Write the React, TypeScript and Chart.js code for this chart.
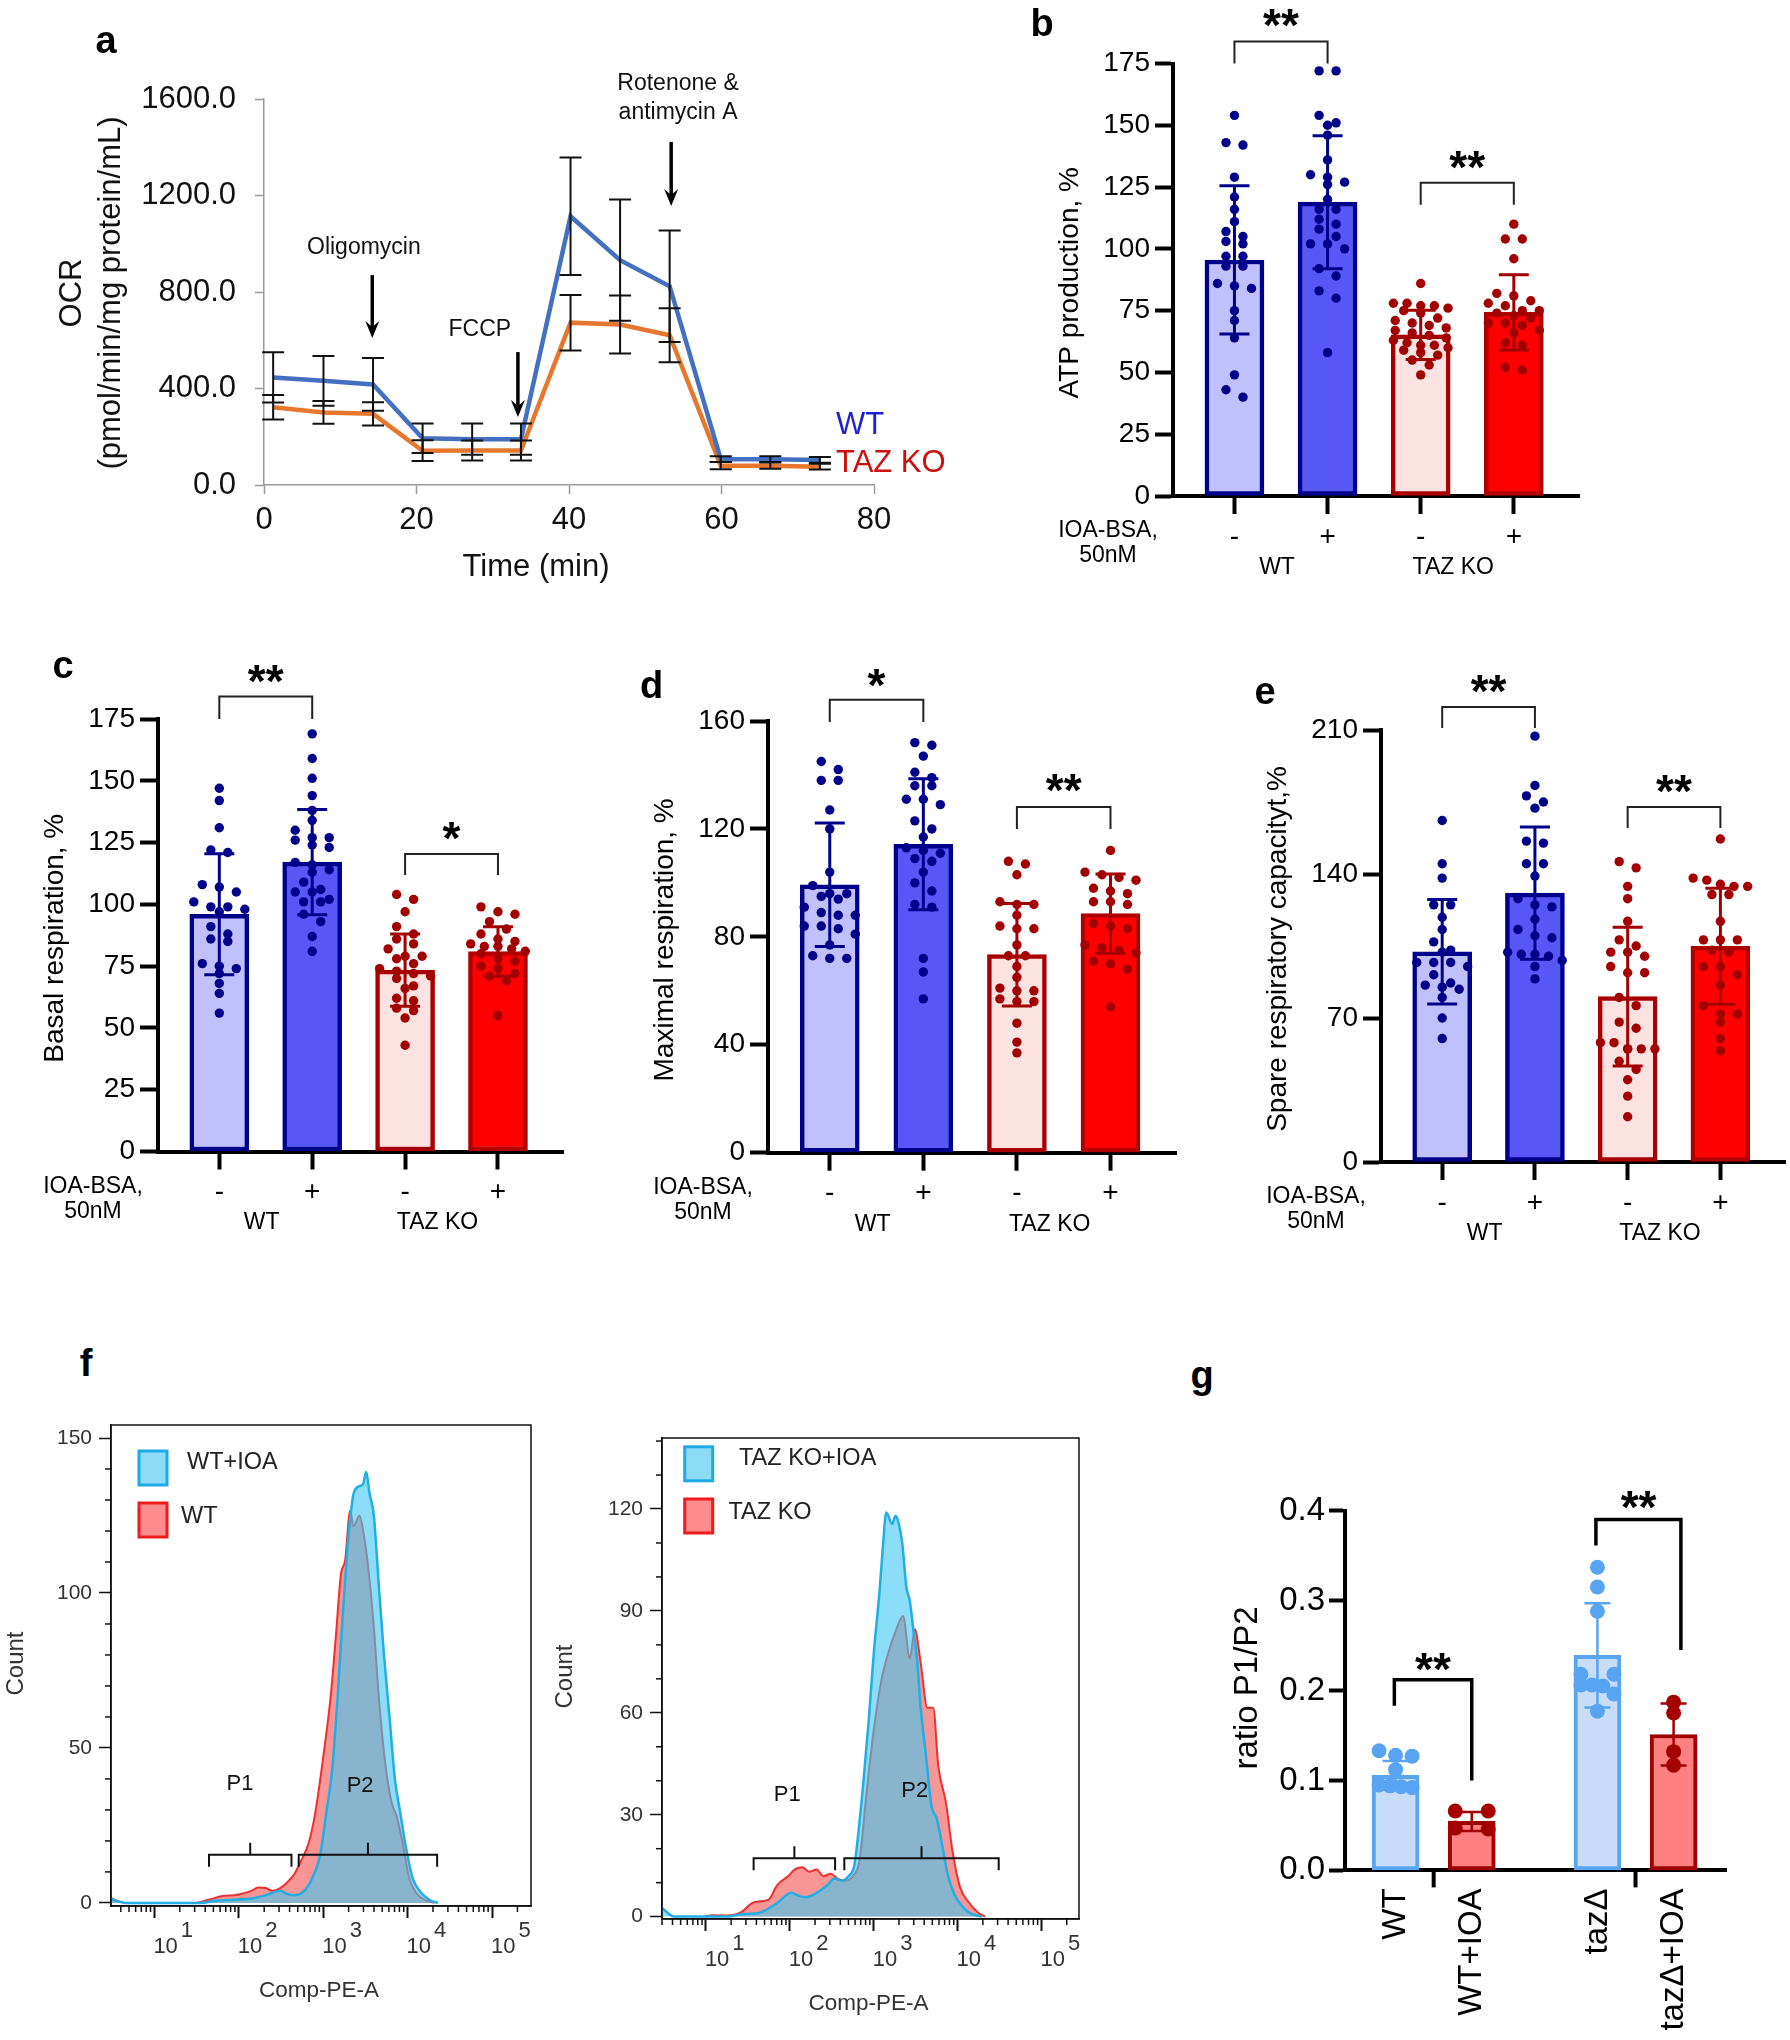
import React, { useEffect, useRef } from 'react';
import { Chart, registerables } from 'chart.js';

Chart.register(...registerables);

const FONT = "'Liberation Sans', Arial, Helvetica, sans-serif";

/* ---------------- a : OCR time course ---------------- */
const ocrTime = [1.2, 7.8, 14.3, 20.8, 27.3, 33.7, 40.2, 46.7, 53.2, 59.9, 66.4, 72.9];
const ocrWT = [446, 432, 417, 194, 190, 190, 1114, 932, 824, 107, 107, 104];
const ocrWTsd = [104, 103, 109, 61, 65, 65, 244, 251, 231, 12, 12, 12];
const ocrKO = [322, 301, 295, 142, 143, 143, 673, 665, 621, 80, 80, 76];
const ocrKOsd = [51, 47, 48, 43, 41, 41, 115, 120, 112, 15, 13, 12];
const ocrXTicks = [0, 20, 40, 60, 80];
const ocrYTicks = [0, 400, 800, 1200, 1600];
const ocrSeries = ['WT', 'TAZ KO'];
const injLabels = ['Oligomycin', 'FCCP', 'Rotenone &', 'antimycin A'];
const injLabelX = [13.1, 28.3, 54.3, 54.3];
const injLabelY = [982, 642, 1662, 1542];
const injArrowX = [14.2, 33.3, 53.4];
const injArrowTop = [870, 551, 1422];
const injArrowTip = [609, 282, 1156];

/* ---------------- b-e : bar + dot panels ---------------- */
const ioaSigns = ['-', '+', '-', '+'];
const genotypes = ['WT', 'TAZ KO'];
const treatLabel = ['IOA-BSA,', '50nM'];

const atpMean = [95.5, 118.9, 65.2, 74.3];
const atpSd = [30.0, 26.9, 10.0, 15.2];
const atpWT = [154, 143, 142, 129, 121, 116, 111, 107, 105, 103, 102, 97, 97, 93, 93, 86, 85, 84, 75, 71, 64, 49, 43, 40];
const atpWTioa = [172, 172, 154, 151, 150, 146, 136, 130, 129, 127, 126, 120, 116, 116, 112, 110, 108, 105, 102, 102, 100, 92, 89, 83, 80, 58];
const atpKO = [86, 78, 78, 77, 77, 76, 75, 74, 72, 71, 70, 69, 68, 67, 66, 65, 64, 63, 62, 61, 61, 60, 59, 58, 57, 55, 53, 49];
const atpKOioa = [110, 104, 104, 96, 82, 81, 79, 78, 77, 75, 75, 74, 73, 72, 70, 70, 69, 67, 66, 62, 61, 52, 51];

const basMean = [96.0, 117.1, 73.4, 80.9];
const basSd = [24.5, 21.3, 14.6, 10.0];
const basWT = [147, 142, 131, 122, 121, 108, 107, 105, 101, 99, 99, 98, 97, 91, 88, 86, 85, 76, 75, 74, 72, 68, 64, 56];
const basWTioa = [169, 159, 151, 144, 138, 134, 130, 127, 127, 126, 124, 123, 117, 116, 114, 113, 109, 106, 105, 105, 102, 101, 101, 96, 93, 87, 81];
const basKO = [104, 102, 97, 91, 88, 86, 84, 82, 79, 79, 78, 76, 74, 73, 72, 71, 70, 67, 66, 62, 61, 58, 57, 54, 43];
const basKOioa = [99, 97, 96, 93, 90, 88, 86, 85, 84, 83, 83, 82, 81, 80, 78, 77, 75, 74, 72, 71, 69, 55];

const maxMean = [99.3, 114.3, 73.4, 88.6];
const maxSd = [22.9, 24.3, 19.0, 14.7];
const maxWT = [145, 142, 138, 138, 127, 120, 104, 99, 96, 96, 95, 94, 91, 89, 88, 88, 84, 84, 83, 81, 77, 73, 72, 72];
const maxWTioa = [152, 151, 147, 141, 139, 136, 136, 131, 131, 129, 123, 120, 117, 113, 112, 111, 109, 108, 104, 100, 97, 92, 91, 72, 67, 57];
const maxKO = [108, 107, 103, 93, 92, 92, 88, 84, 83, 83, 77, 73, 73, 69, 65, 61, 60, 60, 57, 56, 56, 48, 41, 37];
const maxKOioa = [112, 104, 103, 102, 101, 98, 97, 96, 93, 93, 92, 85, 84, 83, 77, 76, 75, 74, 71, 70, 68, 54];

const spMean = [102.2, 130.7, 80.4, 104.9];
const spSd = [25.4, 32.2, 33.7, 28.2];
const spWT = [166, 145, 138, 125, 125, 119, 113, 107, 103, 102, 97, 97, 97, 95, 91, 87, 86, 85, 84, 80, 70, 60];
const spWTioa = [207, 183, 178, 175, 172, 156, 155, 145, 145, 139, 128, 125, 124, 118, 113, 110, 109, 102, 101, 101, 100, 98, 95, 89];
const spKO = [146, 143, 134, 128, 117, 108, 105, 102, 102, 100, 95, 92, 92, 80, 76, 68, 65, 58, 58, 55, 55, 55, 55, 49, 45, 40, 32, 22];
const spKOioa = [157, 138, 137, 135, 134, 134, 130, 130, 117, 108, 108, 108, 103, 102, 95, 95, 91, 86, 76, 72, 72, 68, 60, 54];

/* ---------------- f : flow histograms (x in log10 units) ---------------- */
const flowDecades = [1, 2, 3, 4, 5];
const fLegendL = ['WT+IOA', 'WT'];
const fLegendR = ['TAZ KO+IOA', 'TAZ KO'];
const gateNames = ['P1', 'P2'];

const fLioaX = [0.49, 0.58, 0.66, 1.55, 1.72, 1.94, 2.15, 2.32, 2.49, 2.57, 2.66, 2.79, 2.87, 2.96, 3.04, 3.11, 3.17, 3.23, 3.28, 3.32, 3.36, 3.43, 3.47, 3.51, 3.55, 3.6, 3.66, 3.72, 3.79, 3.85, 3.91, 3.98, 4.06, 4.15, 4.28, 4.36];
const fLioaY = [1.2, 0.4, 0, 0, 0.7, 1, 1.4, 2.5, 3.9, 2.9, 2.5, 4.3, 8, 15, 29.6, 44, 66, 92, 112, 124, 132, 134.5, 135, 139, 132, 125, 102, 80, 58.6, 39.8, 29.6, 18, 8, 3.6, 0.7, 0];
const fLwtX = [0.49, 0.58, 0.66, 1.49, 1.64, 1.81, 1.98, 2.15, 2.23, 2.32, 2.4, 2.49, 2.57, 2.66, 2.74, 2.83, 2.91, 3.0, 3.09, 3.15, 3.21, 3.26, 3.32, 3.36, 3.43, 3.48, 3.53, 3.6, 3.66, 3.74, 3.81, 3.87, 3.94, 4.02, 4.11, 4.23, 4.32];
const fLwtY = [1.5, 0.5, 0, 0, 1, 2.2, 2.6, 3.9, 5, 4.8, 3.9, 4.8, 6.5, 9.4, 13.7, 19.5, 29.7, 47, 67, 86, 106, 110.6, 126.6, 121.5, 125, 119, 109, 89, 66, 44, 32.5, 28, 19.5, 8, 2.9, 0.7, 0];

const fRioaX = [0.48, 0.55, 0.62, 1.25, 1.42, 1.59, 1.72, 1.85, 2.02, 2.1, 2.19, 2.32, 2.45, 2.53, 2.62, 2.7, 2.77, 2.81, 2.87, 2.94, 3.0, 3.07, 3.11, 3.15, 3.22, 3.26, 3.3, 3.34, 3.39, 3.43, 3.47, 3.52, 3.56, 3.62, 3.69, 3.75, 3.82, 3.88, 3.96, 4.07, 4.16, 4.29];
const fRioaY = [2.5, 1, 0, 0, 0.7, 0.9, 2, 4, 7, 6.2, 5.7, 7, 9.3, 11.2, 10.6, 11.9, 15.2, 23, 37.7, 57.5, 77.3, 95.8, 109, 119, 115.6, 118, 115.6, 110, 97, 93, 85, 74.7, 61.5, 48, 32.4, 29, 20.5, 12.6, 6.6, 2.6, 0.9, 0];
const fRkoX = [0.99, 1.08, 1.25, 1.42, 1.55, 1.68, 1.76, 1.85, 1.98, 2.06, 2.15, 2.23, 2.32, 2.4, 2.49, 2.57, 2.66, 2.75, 2.83, 2.92, 3.0, 3.09, 3.17, 3.26, 3.35, 3.43, 3.49, 3.56, 3.64, 3.71, 3.77, 3.86, 3.94, 4.03, 4.14, 4.24, 4.33];
const fRkoY = [0, 0.4, 0.3, 1.3, 4, 4.6, 5.3, 9.3, 11.9, 13.9, 14.5, 13.2, 13.9, 11.9, 12.6, 11.2, 10.6, 11.9, 16.5, 37.7, 54.8, 69.4, 77.3, 83.9, 88.5, 76, 84.6, 74.7, 61.5, 61.5, 44.3, 33.7, 19.2, 8.6, 4, 1.3, 0];

/* gates: [start, end] in log10 units, height in counts, label positions */
const fLgateStart = [1.647, 2.71];
const fLgateEnd = [2.624, 4.35];
const fLgateY = 15.5;
const fLgateLabelX = [2.014, 3.437];
const fLgateLabelY = [38.4, 37.7];
const fRgateStart = [1.569, 2.65];
const fRgateEnd = [2.54, 4.49];
const fRgateY = 17.2;
const fRgateLabelX = [1.97, 3.49];
const fRgateLabelY = [35.7, 37];

/* ---------------- g : ratio P1/P2 ---------------- */
const gLabels = ['WT', 'WT+IOA', 'tazΔ', 'tazΔ+IOA'];
const gMean = [0.1057, 0.0544, 0.239, 0.151];
const gSd = [0.016, 0.0105, 0.058, 0.0345];
const gWT = [0.133, 0.128, 0.127, 0.112, 0.095, 0.094, 0.093, 0.092];
const gWTioa = [0.066, 0.066, 0.047, 0.046];
const gTaz = [0.337, 0.315, 0.288, 0.218, 0.218, 0.206, 0.206, 0.205, 0.196, 0.177];
const gTazIoa = [0.187, 0.175, 0.132, 0.117];
const gYTicks = [0, 0.1, 0.2, 0.3, 0.4];

/* ---------------- layout / style ---------------- */
type Box = { x: number; y: number; w: number; h: number };
type Plot = { l: number; t: number; r: number; b: number };

const pad = (box: Box, plot: Plot, yw: number, xh: number) => ({
  left: plot.l - box.x - yw,
  top: plot.t - box.y,
  right: box.x + box.w - plot.r,
  bottom: box.y + box.h - plot.b - xh,
});

const fnt = (size: number, bold = false) => `${bold ? 'bold ' : ''}${size}px ${FONT}`;

function txt(ctx: any, s: string, x: number, y: number, size: number, o: any = {}) {
  ctx.save();
  ctx.font = fnt(size, o.bold);
  ctx.fillStyle = o.color || '#000';
  ctx.textAlign = o.align || 'center';
  ctx.textBaseline = o.baseline || 'middle';
  ctx.translate(x, y);
  if (o.rot) ctx.rotate(o.rot);
  ctx.fillText(s, 0, 0);
  ctx.restore();
}

function seg(ctx: any, x0: number, y0: number, x1: number, y1: number) {
  ctx.beginPath();
  ctx.moveTo(x0, y0);
  ctx.lineTo(x1, y1);
  ctx.stroke();
}

function errorBar(ctx: any, x: number, yTop: number, yBot: number, cap: number) {
  ctx.beginPath();
  ctx.moveTo(x, yTop);
  ctx.lineTo(x, yBot);
  ctx.moveTo(x - cap, yTop);
  ctx.lineTo(x + cap, yTop);
  ctx.moveTo(x - cap, yBot);
  ctx.lineTo(x + cap, yBot);
  ctx.stroke();
}

/* row-based scatter layout (GraphPad style), returns x offsets in data units */
function swarm(values: number[], pxPerY: number, pxPerX: number, o: any) {
  const order = values.map((_, i) => i).sort((a, b) => values[b] - values[a]);
  const off = new Array(values.length).fill(0);
  let row: number[] = [];
  let rowY = 0;
  const flush = () => {
    const n = row.length;
    const step = n > 1 ? Math.min(o.maxStep, (o.span - 2 * o.r) / (n - 1)) : 0;
    row.forEach((k, j) => {
      off[k] = ((j - (n - 1) / 2) * step) / pxPerX;
    });
    row = [];
  };
  for (const k of order) {
    const py = values[k] * pxPerY;
    if (row.length && rowY - py < o.rowGap && row.length < o.cap) row.push(k);
    else {
      flush();
      row = [k];
      rowY = py;
    }
  }
  flush();
  return off;
}

const baseOpts = (padding: any) => ({
  responsive: false,
  animation: false,
  devicePixelRatio: 1,
  layout: { padding },
  plugins: { legend: { display: false }, tooltip: { enabled: false } },
});

const setTicks = (vals: number[]) => (s: any) => {
  s.ticks = vals.map((v) => ({ value: v }));
};

/* ---------------- panel a ---------------- */
const boxA: Box = { x: 0, y: 0, w: 970, h: 600 };
const plotA: Plot = { l: 264, t: 99, r: 874, b: 485 };

function configA() {
  const gray = '#9a9a9a';
  const plugin = {
    id: 'panelA',
    afterDatasetsDraw(chart: any) {
      const { ctx, scales } = chart;
      const x = scales.x, y = scales.y;
      ctx.save();
      ctx.strokeStyle = '#111';
      ctx.lineWidth = 2;
      [[ocrWT, ocrWTsd], [ocrKO, ocrKOsd]].forEach(([m, s]) => {
        ocrTime.forEach((t, i) => {
          errorBar(ctx, x.getPixelForValue(t), y.getPixelForValue(m[i] + s[i]), y.getPixelForValue(m[i] - s[i]), 11);
        });
      });
      ctx.restore();
    },
    afterDraw(chart: any) {
      const { ctx, chartArea: ca, scales } = chart;
      const x = scales.x, y = scales.y;
      ctx.save();
      ctx.strokeStyle = '#000';
      ctx.fillStyle = '#000';
      ctx.lineWidth = 3.5;
      injArrowX.forEach((ax, i) => {
        const px = x.getPixelForValue(ax);
        const y0 = y.getPixelForValue(injArrowTop[i]);
        const y1 = y.getPixelForValue(injArrowTip[i]);
        seg(ctx, px, y0, px, y1 - 10);
        ctx.beginPath();
        ctx.moveTo(px, y1);
        ctx.lineTo(px - 7, y1 - 17);
        ctx.lineTo(px, y1 - 11);
        ctx.lineTo(px + 7, y1 - 17);
        ctx.closePath();
        ctx.fill();
      });
      injLabels.forEach((s, i) => {
        txt(ctx, s, x.getPixelForValue(injLabelX[i]), y.getPixelForValue(injLabelY[i]), 23, { color: '#111' });
      });
      txt(ctx, ocrSeries[0], ca.right - 38, ca.bottom - 60, 31, { align: 'left', color: '#1f1fcf' });
      txt(ctx, ocrSeries[1], ca.right - 38, ca.bottom - 22, 31, { align: 'left', color: '#cc1010' });
      txt(ctx, 'Time (min)', ca.left + 272, ca.bottom + 82, 31, { color: '#111' });
      const my = (ca.top + ca.bottom) / 2 + 1;
      txt(ctx, 'OCR', ca.left - 192, my, 31, { rot: -Math.PI / 2, color: '#111' });
      txt(ctx, '(pmol/min/mg protein/mL)', ca.left - 153, my, 31, { rot: -Math.PI / 2, color: '#111' });
      ctx.restore();
    },
  };
  const axisCommon = {
    grid: { drawOnChartArea: false, tickLength: 9, tickWidth: 1.5, tickColor: gray },
    border: { display: true, width: 1.5, color: gray },
  };
  return {
    type: 'line',
    data: {
      datasets: [
        { label: ocrSeries[0], data: ocrTime.map((t, i) => ({ x: t, y: ocrWT[i] })), borderColor: '#4470c2', borderWidth: 4.5, pointRadius: 0, tension: 0 },
        { label: ocrSeries[1], data: ocrTime.map((t, i) => ({ x: t, y: ocrKO[i] })), borderColor: '#e5782e', borderWidth: 4.5, pointRadius: 0, tension: 0 },
      ],
    },
    options: {
      ...baseOpts(pad(boxA, plotA, 130, 60)),
      scales: {
        x: {
          type: 'linear', bounds: 'data', min: 0, max: 80,
          afterBuildTicks: setTicks(ocrXTicks),
          ticks: { font: { family: FONT, size: 31 }, color: '#111', padding: 8, maxRotation: 0, autoSkip: false, callback: (v: any) => String(v) },
          ...axisCommon,
          afterFit: (s: any) => { s.height = 60; },
        },
        y: {
          type: 'linear', bounds: 'data', min: 0, max: 1600,
          afterBuildTicks: setTicks(ocrYTicks),
          ticks: { font: { family: FONT, size: 31 }, color: '#111', padding: 19, autoSkip: false, callback: (v: any) => Number(v).toFixed(1) },
          ...axisCommon,
          afterFit: (s: any) => { s.width = 130; },
        },
      },
    },
    plugins: [plugin],
  };
}

/* ---------------- panels b-e ---------------- */
const barFill = ['#c0c0fc', '#5757f6', '#fde2e2', '#ff0000'];
const barEdge = ['#00008b', '#00008b', '#a80000', '#b00000'];
const dotFill = ['#00008b', '#00008b', '#a30000', '#a30000'];
const BAR_XMIN = -0.66;
const BAR_XMAX = 3.7;

function barConfig(p: any) {
  const pxX = (p.plot.r - p.plot.l) / (BAR_XMAX - BAR_XMIN);
  const pxY = (p.plot.b - p.plot.t) / p.yMax;
  const pts: any[] = [];
  const cols: string[] = [];
  p.groups.forEach((vals: number[], gi: number) => {
    const off = swarm(vals, pxY, pxX, { r: 4.7, rowGap: 9, maxStep: 17, span: 64, cap: 5 });
    vals.forEach((v, k) => {
      pts.push({ x: gi + off[k], y: v });
      cols.push(dotFill[gi]);
    });
  });
  const plugin = {
    id: 'barDecor',
    afterDatasetsDraw(chart: any) {
      const { ctx, scales } = chart;
      const x = scales.x, y = scales.y;
      ctx.save();
      ctx.lineWidth = 3;
      p.mean.forEach((m: number, i: number) => {
        ctx.strokeStyle = dotFill[i];
        errorBar(ctx, x.getPixelForValue(i), y.getPixelForValue(m + p.sd[i]), y.getPixelForValue(m - p.sd[i]), 15);
      });
      ctx.restore();
    },
    afterDraw(chart: any) {
      const { ctx, chartArea: ca, scales } = chart;
      const x = scales.x, y = scales.y;
      ctx.save();
      ctx.strokeStyle = '#222';
      ctx.lineWidth = 2;
      p.brackets.forEach((b: any) => {
        const x0 = x.getPixelForValue(b.x0), x1 = x.getPixelForValue(b.x1);
        const yt = y.getPixelForValue(b.y), yl = y.getPixelForValue(b.yl);
        ctx.beginPath();
        ctx.moveTo(x0, yl);
        ctx.lineTo(x0, yt);
        ctx.lineTo(x1, yt);
        ctx.lineTo(x1, yl);
        ctx.stroke();
        txt(ctx, b.stars, (x0 + x1) / 2, y.getPixelForValue(b.sy) + 26, 46, { bold: true, baseline: 'alphabetic' });
      });
      txt(ctx, p.yTitle, ca.left - 103, (ca.top + ca.bottom) / 2 + 3, 28, { rot: -Math.PI / 2 });
      txt(ctx, treatLabel[0], ca.left - 65, ca.bottom + 35, 23);
      txt(ctx, treatLabel[1], ca.left - 65, ca.bottom + 60, 23);
      txt(ctx, genotypes[0], x.getPixelForValue(0.5) - 4, ca.bottom + 71.5, 23);
      txt(ctx, genotypes[1], x.getPixelForValue(2.5) - 14, ca.bottom + 71.5, 23);
      ctx.restore();
    },
  };
  const blackAxis = {
    grid: { drawOnChartArea: false, tickLength: 18, tickWidth: 4, tickColor: '#000', offset: false },
    border: { display: true, width: 4, color: '#000' },
  };
  return {
    type: 'bar',
    data: {
      datasets: [
        { type: 'scatter', data: pts, pointRadius: 4.7, pointBackgroundColor: cols, pointBorderColor: cols, pointBorderWidth: 0, order: 1 },
        {
          type: 'bar', data: p.mean.map((m: number, i: number) => ({ x: i, y: m })),
          backgroundColor: barFill, borderColor: barEdge, borderWidth: 4.5, borderSkipped: false, barThickness: 59, grouped: false, order: 2,
        },
      ],
    },
    options: {
      ...baseOpts(pad(p.box, p.plot, 130, 60)),
      scales: {
        x: {
          type: 'linear', bounds: 'data', min: BAR_XMIN, max: BAR_XMAX, offset: false,
          afterBuildTicks: setTicks([0, 1, 2, 3]),
          ticks: { callback: (v: any) => ioaSigns[Math.round(v)] ?? '', font: { family: FONT, size: 28 }, color: '#000', padding: 6, maxRotation: 0, minRotation: 0, autoSkip: false },
          ...blackAxis,
          afterFit: (s: any) => { s.height = 60; },
        },
        y: {
          type: 'linear', bounds: 'data', min: 0, max: p.yMax,
          afterBuildTicks: setTicks(p.yTicks),
          ticks: { font: { family: FONT, size: 28 }, color: '#000', padding: 5, autoSkip: false, callback: (v: any) => String(v) },
          ...blackAxis,
          afterFit: (s: any) => { s.width = 130; },
        },
      },
    },
    plugins: [plugin],
  };
}

const panelB = {
  box: { x: 1010, y: 0, w: 780, h: 590 }, plot: { l: 1173, t: 63.5, r: 1579, b: 496 },
  yMax: 175, yTicks: [0, 25, 50, 75, 100, 125, 150, 175], mean: atpMean, sd: atpSd,
  groups: [atpWT, atpWTioa, atpKO, atpKOioa], yTitle: 'ATP production, %',
  brackets: [{ x0: 0, x1: 1, y: 183.9, yl: 175, stars: '**', sy: 194.7 }, { x0: 2, x1: 3, y: 126.7, yl: 117.8, stars: '**', sy: 137.2 }],
};
const panelC = {
  box: { x: 0, y: 640, w: 610, h: 610 }, plot: { l: 158, t: 719, r: 563, b: 1151.5 },
  yMax: 175, yTicks: [0, 25, 50, 75, 100, 125, 150, 175], mean: basMean, sd: basSd,
  groups: [basWT, basWTioa, basKO, basKOioa], yTitle: 'Basal respiration, %',
  brackets: [{ x0: 0, x1: 1, y: 184.1, yl: 175, stars: '**', sy: 194.4 }, { x0: 2, x1: 3, y: 120.4, yl: 111.9, stars: '*', sy: 131 }],
};
const panelD = {
  box: { x: 625, y: 640, w: 600, h: 610 }, plot: { l: 768, t: 721, r: 1176, b: 1152.7 },
  yMax: 160, yTicks: [0, 40, 80, 120, 160], mean: maxMean, sd: maxSd,
  groups: [maxWT, maxWTioa, maxKO, maxKOioa], yTitle: 'Maximal respiration, %',
  brackets: [{ x0: 0, x1: 1, y: 167.9, yl: 159.6, stars: '*', sy: 177.2 }, { x0: 2, x1: 3, y: 128.1, yl: 120, stars: '**', sy: 138 }],
};
const panelE = {
  box: { x: 1235, y: 640, w: 555, h: 620 }, plot: { l: 1381, t: 730, r: 1786, b: 1162 },
  yMax: 210, yTicks: [0, 70, 140, 210], mean: spMean, sd: spSd,
  groups: [spWT, spWTioa, spKO, spKOioa], yTitle: 'Spare respiratory capacityt,%',
  brackets: [{ x0: 0, x1: 1, y: 221.2, yl: 211, stars: '**', sy: 233.8 }, { x0: 2, x1: 3, y: 172.6, yl: 162.4, stars: '**', sy: 185.3 }],
};

/* ---------------- panel f ---------------- */
const cyanLine = '#22aee4';
const cyanFill = 'rgba(63,200,243,0.6)';
const redLine = '#ee3030';
const redFill = 'rgba(241,45,45,0.5)';

function flowConfig(p: any) {
  const plugin = {
    id: 'flowDecor',
    afterDraw(chart: any) {
      const { ctx, chartArea: ca, scales } = chart;
      const x = scales.x, y = scales.y;
      ctx.save();
      ctx.strokeStyle = '#111';
      ctx.lineWidth = 1.5;
      ctx.strokeRect(ca.left, ca.top, ca.right - ca.left, ca.bottom - ca.top);
      p.yMinor.forEach((v: number) => {
        const py = y.getPixelForValue(v);
        seg(ctx, ca.left, py, ca.left - 6, py);
      });
      for (let d = 0; d <= 5; d++) {
        for (let k = 2; k <= 9; k++) {
          const v = d + Math.log10(k);
          if (v < x.min || v > x.max) continue;
          const px = x.getPixelForValue(v);
          seg(ctx, px, ca.bottom, px, ca.bottom + 6);
        }
      }
      flowDecades.forEach((n) => {
        const px = x.getPixelForValue(n) - 1;
        ctx.font = fnt(22);
        const w = ctx.measureText('10').width;
        txt(ctx, '10', px, ca.bottom + 47, 22, { align: 'left', baseline: 'alphabetic', color: '#333' });
        txt(ctx, String(n), px + w + 3, ca.bottom + 31, 22, { align: 'left', baseline: 'alphabetic', color: '#333' });
      });
      ctx.lineWidth = 2;
      p.gStart.forEach((a: number, i: number) => {
        const xa = x.getPixelForValue(a), xb = x.getPixelForValue(p.gEnd[i]);
        const xc = (xa + xb) / 2, yy = y.getPixelForValue(p.gY);
        ctx.beginPath();
        ctx.moveTo(xa, yy + 12);
        ctx.lineTo(xa, yy);
        ctx.lineTo(xb, yy);
        ctx.lineTo(xb, yy + 12);
        ctx.moveTo(xc, yy);
        ctx.lineTo(xc, yy - 12);
        ctx.stroke();
        txt(ctx, gateNames[i], x.getPixelForValue(p.gLX[i]), y.getPixelForValue(p.gLY[i]), 22, { color: '#111' });
      });
      const fills = ['#8ddcf6', '#ff8c8c'];
      const edges = ['#1eaae6', '#ee1c1c'];
      p.legend.forEach((lab: string, i: number) => {
        const L = p.legendPos[i];
        ctx.fillStyle = fills[i];
        ctx.fillRect(ca.left + L[0], ca.top + L[1], 28, 34);
        ctx.strokeStyle = edges[i];
        ctx.lineWidth = 3;
        ctx.strokeRect(ca.left + L[0], ca.top + L[1], 28, 34);
        txt(ctx, lab, ca.left + L[2], ca.top + L[3], 23.5, { align: 'left', color: '#222' });
      });
      txt(ctx, 'Count', ca.left - p.countDx, (ca.top + ca.bottom) / 2 - 2, 24, { rot: -Math.PI / 2, color: '#333' });
      txt(ctx, 'Comp-PE-A', (ca.left + ca.right) / 2 - 2, ca.bottom + 85, 22.5, { color: '#333' });
      ctx.restore();
    },
  };
  return {
    type: 'line',
    data: {
      datasets: [
        { data: p.ioaX.map((v: number, i: number) => ({ x: v, y: p.ioaY[i] })), borderColor: cyanLine, backgroundColor: cyanFill, borderWidth: 2.5, fill: 'origin', pointRadius: 0, tension: 0.4, cubicInterpolationMode: 'monotone' },
        { data: p.baseX.map((v: number, i: number) => ({ x: v, y: p.baseY[i] })), borderColor: redLine, backgroundColor: redFill, borderWidth: 2, fill: 'origin', pointRadius: 0, tension: 0.4, cubicInterpolationMode: 'monotone' },
      ],
    },
    options: {
      ...baseOpts(pad(p.box, p.plot, 80, 60)),
      scales: {
        x: {
          type: 'linear', bounds: 'data', min: p.xMin, max: p.xMax,
          afterBuildTicks: setTicks(flowDecades),
          ticks: { display: false },
          grid: { drawOnChartArea: false, tickLength: 12, tickWidth: 2, tickColor: '#111' },
          border: { display: true, width: 1.5, color: '#111' },
          afterFit: (s: any) => { s.height = 60; },
        },
        y: {
          type: 'linear', bounds: 'data', min: p.yMin, max: p.yMax,
          afterBuildTicks: setTicks(p.yTicks),
          ticks: { font: { family: FONT, size: 21 }, color: '#333', padding: 7, autoSkip: false, callback: (v: any) => String(v) },
          grid: { drawOnChartArea: false, tickLength: 12, tickWidth: 1.5, tickColor: '#111' },
          border: { display: true, width: 1.5, color: '#111' },
          afterFit: (s: any) => { s.width = 80; },
        },
      },
    },
    plugins: [plugin],
  };
}

const panelFL = {
  box: { x: 0, y: 1400, w: 560, h: 640 }, plot: { l: 111, t: 1425, r: 531, b: 1906 },
  xMin: 0.486, xMax: 5.462, yMin: -1, yMax: 154.2, yTicks: [0, 50, 100, 150],
  yMinor: [10, 20, 30, 40, 60, 70, 80, 90, 110, 120, 130, 140],
  ioaX: fLioaX, ioaY: fLioaY, baseX: fLwtX, baseY: fLwtY,
  gStart: fLgateStart, gEnd: fLgateEnd, gY: fLgateY, gLX: fLgateLabelX, gLY: fLgateLabelY,
  legend: fLegendL, legendPos: [[28, 26, 76, 38], [28, 78, 70, 92]], countDx: 95,
};
const panelFR = {
  box: { x: 540, y: 1400, w: 580, h: 640 }, plot: { l: 662, t: 1438, r: 1079, b: 1919 },
  xMin: 0.477, xMax: 5.447, yMin: -0.7, yMax: 140.9, yTicks: [0, 30, 60, 90, 120],
  yMinor: [10, 20, 40, 50, 70, 80, 100, 110, 130, 140],
  ioaX: fRioaX, ioaY: fRioaY, baseX: fRkoX, baseY: fRkoY,
  gStart: fRgateStart, gEnd: fRgateEnd, gY: fRgateY, gLX: fRgateLabelX, gLY: fRgateLabelY,
  legend: fLegendR, legendPos: [[22.7, 8.8, 77, 21], [22.7, 61, 66.5, 75]], countDx: 97,
};

/* ---------------- panel g ---------------- */
const boxG: Box = { x: 1170, y: 1400, w: 620, h: 640 };
const plotG: Plot = { l: 1345, t: 1510.5, r: 1726, b: 1870.4 };
const gPos = [0, 1, 2.65, 3.65];
const gSep = [0.5, 3.15];
const gXMin = -0.664;
const gXMax = 4.338;
const gFill = ['#c8ddf7', '#ff8080', '#c8ddf7', '#ff8080'];
const gEdge = ['#5aa5f0', '#a00000', '#5aa5f0', '#a00000'];
const gDot = ['#57a5f2', '#a50000', '#57a5f2', '#a50000'];
const gBrackets = [
  { x0: -0.016, x1: 1.0, y: 0.212, yl0: 0.183, yl1: 0.0998, stars: '**', sx: 0.49, sy: 0.2353 },
  { x0: 2.63, x1: 3.746, y: 0.39, yl0: 0.361, yl1: 0.245, stars: '**', sx: 3.19, sy: 0.415 },
];

function configG() {
  const pxX = (plotG.r - plotG.l) / (gXMax - gXMin);
  const pxY = (plotG.b - plotG.t) / 0.4;
  const pts: any[] = [];
  const cols: string[] = [];
  [gWT, gWTioa, gTaz, gTazIoa].forEach((vals, gi) => {
    const off = swarm(vals, pxY, pxX, { r: 7.5, rowGap: 10, maxStep: 34, span: 48, cap: 4 });
    vals.forEach((v, k) => {
      pts.push({ x: gPos[gi] + off[k], y: v });
      cols.push(gDot[gi]);
    });
  });
  const plugin = {
    id: 'gDecor',
    afterDatasetsDraw(chart: any) {
      const { ctx, scales } = chart;
      const x = scales.x, y = scales.y;
      ctx.save();
      ctx.lineWidth = 2.5;
      gMean.forEach((m, i) => {
        ctx.strokeStyle = gDot[i];
        errorBar(ctx, x.getPixelForValue(gPos[i]), y.getPixelForValue(m + gSd[i]), y.getPixelForValue(m - gSd[i]), 13);
      });
      ctx.restore();
    },
    afterDraw(chart: any) {
      const { ctx, chartArea: ca, scales } = chart;
      const x = scales.x, y = scales.y;
      ctx.save();
      ctx.strokeStyle = '#000';
      ctx.lineWidth = 4;
      gSep.forEach((v) => {
        const px = x.getPixelForValue(v);
        seg(ctx, px, ca.bottom, px, ca.bottom + 17);
      });
      ctx.lineWidth = 3.5;
      gBrackets.forEach((b) => {
        const x0 = x.getPixelForValue(b.x0), x1 = x.getPixelForValue(b.x1), yt = y.getPixelForValue(b.y);
        ctx.beginPath();
        ctx.moveTo(x0, y.getPixelForValue(b.yl0));
        ctx.lineTo(x0, yt);
        ctx.lineTo(x1, yt);
        ctx.lineTo(x1, y.getPixelForValue(b.yl1));
        ctx.stroke();
        txt(ctx, b.stars, x.getPixelForValue(b.sx), y.getPixelForValue(b.sy) + 26, 46, { bold: true, baseline: 'alphabetic' });
      });
      txt(ctx, 'ratio P1/P2', ca.left - 97.5, (ca.top + ca.bottom) / 2 - 2.5, 33, { rot: -Math.PI / 2 });
      ctx.restore();
    },
  };
  return {
    type: 'bar',
    data: {
      datasets: [
        { type: 'scatter', data: pts, pointRadius: 7.5, pointBackgroundColor: cols, pointBorderColor: cols, pointBorderWidth: 0, order: 1 },
        {
          type: 'bar', data: gMean.map((m, i) => ({ x: gPos[i], y: m })),
          backgroundColor: gFill, borderColor: gEdge, borderWidth: 4, borderSkipped: false, barThickness: 47, grouped: false, order: 2,
        },
      ],
    },
    options: {
      ...baseOpts(pad(boxG, plotG, 130, 160)),
      scales: {
        x: {
          type: 'linear', bounds: 'data', min: gXMin, max: gXMax, offset: false,
          afterBuildTicks: setTicks(gPos),
          ticks: { callback: (_v: any, i: number) => gLabels[i], font: { family: FONT, size: 33 }, color: '#000', padding: 18, minRotation: 90, maxRotation: 90, autoSkip: false },
          grid: { drawOnChartArea: false, drawTicks: false, offset: false },
          border: { display: true, width: 4, color: '#000' },
          afterFit: (s: any) => { s.height = 160; },
        },
        y: {
          type: 'linear', bounds: 'data', min: 0, max: 0.4,
          afterBuildTicks: setTicks(gYTicks),
          ticks: { font: { family: FONT, size: 33 }, color: '#000', padding: 4, autoSkip: false, callback: (v: any) => Number(v).toFixed(1) },
          grid: { drawOnChartArea: false, tickLength: 16, tickWidth: 4, tickColor: '#000' },
          border: { display: true, width: 4, color: '#000' },
          afterFit: (s: any) => { s.width = 130; },
        },
      },
    },
    plugins: [plugin],
  };
}

/* ---------------- components ---------------- */
function ChartCanvas({ box, make }: { box: Box; make: () => any }) {
  const ref = useRef<HTMLCanvasElement>(null);
  useEffect(() => {
    const chart = new Chart(ref.current as HTMLCanvasElement, make());
    return () => chart.destroy();
  }, []);
  return (
    <canvas
      ref={ref}
      width={box.w}
      height={box.h}
      style={{ position: 'absolute', left: box.x, top: box.y, width: box.w, height: box.h }}
    />
  );
}

const panels = [
  { id: 'a', box: boxA, make: configA },
  { id: 'b', box: panelB.box, make: () => barConfig(panelB) },
  { id: 'c', box: panelC.box, make: () => barConfig(panelC) },
  { id: 'd', box: panelD.box, make: () => barConfig(panelD) },
  { id: 'e', box: panelE.box, make: () => barConfig(panelE) },
  { id: 'fL', box: panelFL.box, make: () => flowConfig(panelFL) },
  { id: 'fR', box: panelFR.box, make: () => flowConfig(panelFR) },
  { id: 'g', box: boxG, make: configG },
];

const letters = [
  { ch: 'a', x: 106, base: 53.5 },
  { ch: 'b', x: 1042, base: 36 },
  { ch: 'c', x: 63, base: 678.5 },
  { ch: 'd', x: 651.5, base: 697.7 },
  { ch: 'e', x: 1265, base: 704.5 },
  { ch: 'f', x: 86, base: 1376 },
  { ch: 'g', x: 1202, base: 1388 },
];

export default function App() {
  return (
    <div style={{ position: 'absolute', left: 0, top: 0, width: 1790, height: 2040, background: '#fff', overflow: 'hidden' }}>
      {panels.map((p) => (
        <ChartCanvas key={p.id} box={p.box} make={p.make} />
      ))}
      {letters.map((l) => (
        <div
          key={l.ch}
          style={{
            position: 'absolute', left: l.x, top: l.base - 32.2, transform: 'translateX(-50%)',
            font: `bold 38px ${FONT}`, lineHeight: '38px', color: '#000', whiteSpace: 'nowrap',
          }}
        >
          {l.ch}
        </div>
      ))}
    </div>
  );
}
